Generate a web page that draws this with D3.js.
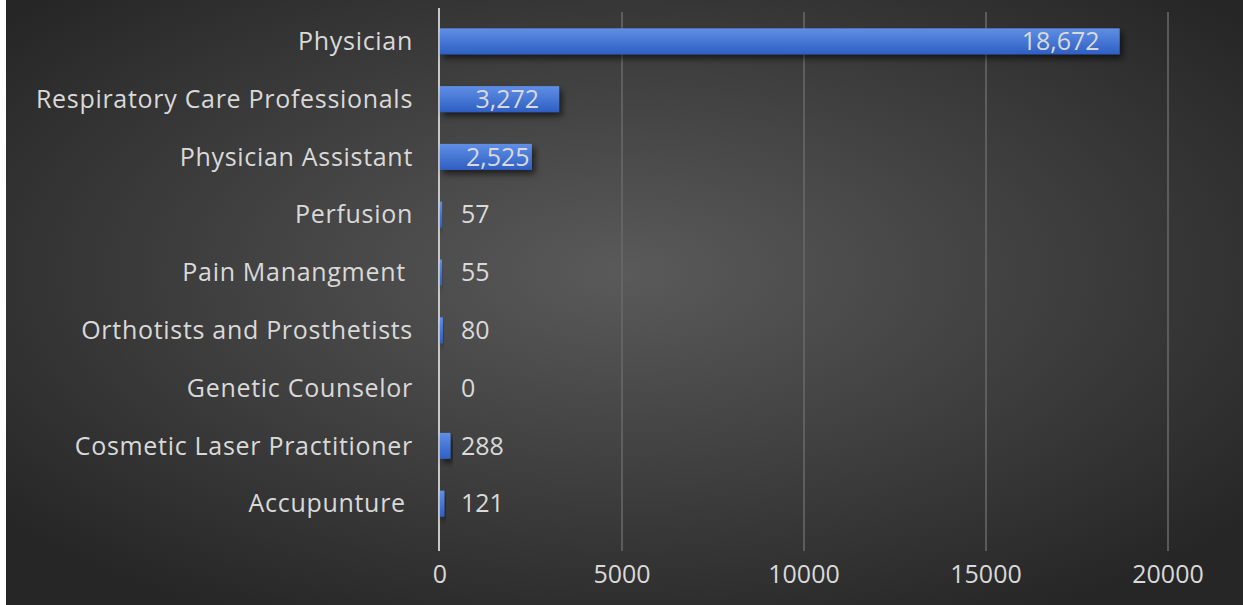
<!DOCTYPE html>
<html>
<head>
<meta charset="utf-8">
<script src="https://cdn.jsdelivr.net/npm/d3@7"></script>
<style>
  html, body { margin: 0; padding: 0; background: #fff; }
  svg { display: block; }
  text { font-family: "Open Sans", Lato, sans-serif; }
</style>
</head>
<body>
<div id="chart"></div>
<script>
(function(){
    var categories = ['Physician', 'Respiratory Care Professionals', 'Physician Assistant', 'Perfusion',
        'Pain Manangment ', 'Orthotists and Prosthetists', 'Genetic Counselor',
        'Cosmetic Laser Practitioner', 'Accupunture '];
    var values = [18672, 3272, 2525, 57, 55, 80, 0, 288, 121];
    var ticks = [0, 5000, 10000, 15000, 20000];

    var W = 1243, H = 605, FS = 25, LS = 0.7;
    var svg = d3.select('#chart').append('svg')
        .attr('width', W).attr('height', H);

    var defs = svg.append('defs');
    var bg = defs.append('radialGradient').attr('id', 'bg')
        .attr('cx', '50%').attr('cy', '45%').attr('r', '65%');
    bg.append('stop').attr('offset', '0%').attr('stop-color', '#5a5a5a');
    bg.append('stop').attr('offset', '100%').attr('stop-color', '#262626');

    var bar = defs.append('linearGradient').attr('id', 'bar')
        .attr('x1', 0).attr('y1', 0).attr('x2', 0).attr('y2', 1);
    bar.append('stop').attr('offset', '0%').attr('stop-color', '#5f8fe6');
    bar.append('stop').attr('offset', '100%').attr('stop-color', '#2e5fc2');

    var sh = defs.append('filter').attr('id', 'shadow')
        .attr('x', '-20%').attr('y', '-30%').attr('width', '140%').attr('height', '180%');
    sh.append('feDropShadow').attr('dx', 3).attr('dy', 4).attr('stdDeviation', 3)
        .attr('flood-color', '#000').attr('flood-opacity', 0.6);

    svg.append('rect').attr('x', 6).attr('y', 0).attr('width', W - 6).attr('height', H)
        .attr('fill', 'url(#bg)');

    var x = d3.scaleLinear().domain([0, 20000]).range([440, 1168]);
    var y = d3.scaleBand().domain(categories).range([11, 534]).paddingInner(0.55).paddingOuter(0.3);

    // gridlines
    svg.append('g').selectAll('line')
        .data(ticks.slice(1)).enter()
        .append('line')
        .attr('x1', d => x(d)).attr('x2', d => x(d))
        .attr('y1', 12).attr('y2', 551)
        .attr('stroke', '#6a6a6a').attr('stroke-width', 1.5);

    // tick labels
    svg.append('g').selectAll('text')
        .data(ticks).enter()
        .append('text')
        .attr('x', d => x(d)).attr('y', 574)
        .attr('dy', '0.35em')
        .attr('text-anchor', 'middle')
        .attr('fill', '#d9d9d9').attr('font-size', FS)
        .text(d => d);

    // zero axis
    svg.append('line')
        .attr('x1', x(0) - 1).attr('x2', x(0) - 1)
        .attr('y1', 8).attr('y2', 551)
        .attr('stroke', '#c8c8c8').attr('stroke-width', 2);

    // bars
    svg.append('g').selectAll('rect')
        .data(values).enter()
        .append('rect')
        .attr('x', x(0))
        .attr('y', (d, i) => y(categories[i]))
        .attr('width', d => x(d) - x(0))
        .attr('height', y.bandwidth())
        .attr('fill', 'url(#bar)')
        .attr('filter', 'url(#shadow)');

    // category labels
    svg.append('g').selectAll('text')
        .data(categories).enter()
        .append('text')
        .attr('x', 413)
        .attr('y', d => y(d) + y.bandwidth() / 2)
        .attr('dy', '0.35em')
        .attr('text-anchor', 'end')
        .attr('fill', '#d9d9d9').attr('font-size', FS)
        .attr('letter-spacing', LS)
        .style('white-space', 'pre')
        .text(d => d);

    // value labels
    var fmt = d3.format(',');
    svg.append('g').selectAll('text')
        .data(values).enter()
        .append('text')
        .attr('y', (d, i) => y(categories[i]) + y.bandwidth() / 2)
        .attr('dy', '0.35em')
        .attr('fill', '#d9d9d9').attr('font-size', FS)
        .text(d => fmt(d))
        .each(function(d){
            var tw = this.getComputedTextLength();
            var end = x(d);
            var inside = end - x(0) > tw + 10;
            var tx = inside ? Math.max(end - 20 - tw, x(0) + 26) : x(0) + 21;
            d3.select(this).attr('x', tx);
        });
})();
</script>
</body>
</html>
